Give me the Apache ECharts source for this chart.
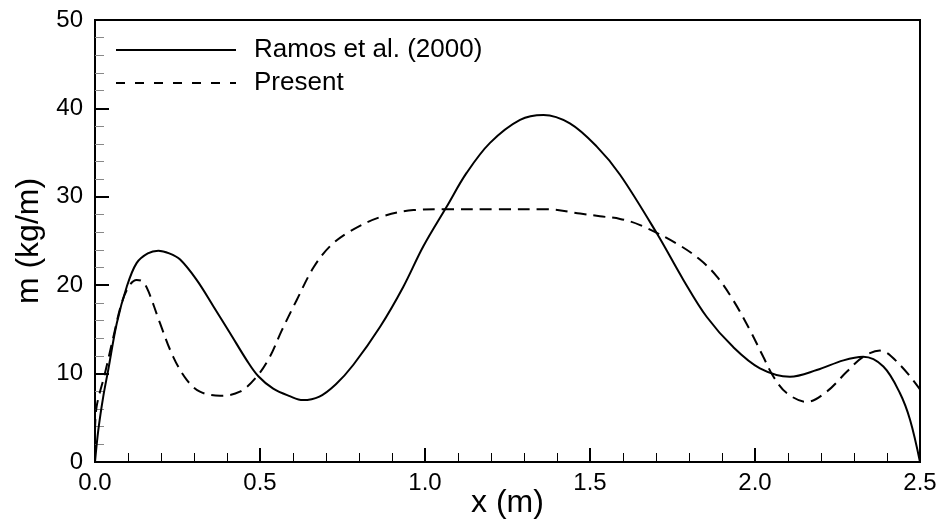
<!DOCTYPE html>
<html>
<head>
<meta charset="utf-8">
<script src="https://cdn.jsdelivr.net/npm/echarts@6/dist/echarts.min.js"></script>
<style>
html,body{margin:0;padding:0;background:#fff;}
#chart{width:942px;height:521px;}
</style>
</head>
<body>
<div id="chart"></div>
<script>
var seriesNames = ['Ramos et al. (2000)', 'Present'];
var ramosX = [0, 0.01, 0.025, 0.04, 0.066, 0.096, 0.126, 0.16, 0.192, 0.225, 0.258, 0.308, 0.359, 0.409, 0.46, 0.495, 0.54, 0.59, 0.63, 0.68, 0.73, 0.783, 0.864, 0.934, 0.995, 1.066, 1.126, 1.197, 1.288, 1.359, 1.439, 1.52, 1.591, 1.702, 1.783, 1.854, 1.934, 2.015, 2.106, 2.187, 2.268, 2.328, 2.389, 2.439, 2.47, 2.5];
var ramosY = [0, 3.6, 7.4, 10.4, 15.7, 19.8, 22.5, 23.6, 23.9, 23.6, 22.9, 20.6, 17.6, 14.6, 11.5, 9.7, 8.3, 7.45, 7.0, 7.4, 8.8, 11.0, 15.3, 19.8, 24.4, 28.9, 32.7, 36.1, 38.7, 39.25, 38.3, 35.7, 32.5, 25.9, 20.6, 16.4, 13.0, 10.6, 9.65, 10.4, 11.5, 11.9, 10.8, 7.8, 4.75, 0];
var presentX = [0, 0.005, 0.03, 0.056, 0.081, 0.105, 0.126, 0.145, 0.162, 0.197, 0.237, 0.278, 0.318, 0.379, 0.439, 0.49, 0.53, 0.565, 0.611, 0.662, 0.712, 0.773, 0.864, 0.965, 1.066, 1.217, 1.369, 1.47, 1.53, 1.591, 1.652, 1.763, 1.833, 1.884, 1.934, 1.985, 2.025, 2.056, 2.096, 2.157, 2.217, 2.278, 2.328, 2.379, 2.439, 2.5];
var presentY = [3.5, 6.3, 10, 14.2, 18, 20.0, 20.6, 20.4, 19.3, 15.7, 11.9, 9.3, 7.95, 7.5, 7.95, 9.65, 11.9, 14.8, 18.3, 22.0, 24.4, 26.1, 27.7, 28.5, 28.6, 28.6, 28.6, 28.1, 27.8, 27.5, 26.8, 24.7, 22.9, 21, 18.3, 14.9, 11.9, 9.65, 7.8, 6.8, 7.95, 10.2, 11.9, 12.6, 11.0, 8.2];
var xTickLabels = ['0.0', '0.5', '1.0', '1.5', '2.0', '2.5'];
var yTickLabels = ['0', '10', '20', '30', '40', '50'];

function pairs(xs, ys) { return xs.map(function (x, i) { return [x, ys[i]]; }); }

var FONT = '"Liberation Sans", Arial, Helvetica, sans-serif';
var chart = echarts.init(document.getElementById('chart'), null, {renderer: 'canvas'});
chart.setOption({
  animation: false,
  backgroundColor: '#fff',
  grid: {left: 95, right: 22, top: 20, bottom: 59, show: true, borderColor: '#000', borderWidth: 2, backgroundColor: 'transparent',
         containLabel: false, outerBoundsMode: 'none'},
  legend: {
    orient: 'vertical', left: 110, top: 32, itemWidth: 120, itemHeight: 14, itemGap: 7,
    itemStyle: {opacity: 0},
    textStyle: {fontFamily: FONT, fontSize: 26, color: '#000', padding: [0, 0, 0, 13]},
    data: [
      {name: seriesNames[0], itemStyle: {opacity: 0}},
      {name: seriesNames[1], itemStyle: {opacity: 0}, lineStyle: {type: [9, 10], width: 2, color: '#000'}}
    ]
  },
  xAxis: {
    type: 'value', min: 0, max: 2.5, interval: 0.5,
    name: 'x (m)', nameLocation: 'middle', nameGap: 25, nameMoveOverlap: false,
    nameTextStyle: {fontFamily: FONT, fontSize: 32, color: '#000'},
    axisLine: {show: true, onZero: false, lineStyle: {color: '#000', width: 2}},
    axisTick: {show: true, inside: true, length: 14, lineStyle: {color: '#000', width: 2}},
    minorTick: {show: true, splitNumber: 5, length: 9, lineStyle: {color: '#000', width: 1}},
    splitLine: {show: false},
    axisLabel: {fontFamily: FONT, fontSize: 24, color: '#000', margin: 9,
      formatter: function (v) { return xTickLabels[Math.round(v / 0.5)]; }}
  },
  yAxis: {
    type: 'value', min: 0, max: 50, interval: 10,
    name: 'm (kg/m)', nameLocation: 'middle', nameGap: 50, nameRotate: 90, nameMoveOverlap: false,
    nameTextStyle: {fontFamily: FONT, fontSize: 32, color: '#000'},
    axisLine: {show: true, onZero: false, lineStyle: {color: '#000', width: 2}},
    axisTick: {show: true, inside: true, length: 14, lineStyle: {color: '#000', width: 2}},
    minorTick: {show: true, splitNumber: 5, length: 9, lineStyle: {color: '#888', width: 1}},
    splitLine: {show: false},
    axisLabel: {fontFamily: FONT, fontSize: 24, color: '#000', margin: 12,
      formatter: function (v) { return yTickLabels[Math.round(v / 10)]; }}
  },
  series: [
    {name: seriesNames[0], type: 'line', data: pairs(ramosX, ramosY), smooth: 0.35, showSymbol: false, symbol: 'none',
     lineStyle: {color: '#000', width: 2, type: 'solid'}, itemStyle: {color: '#000'}},
    {name: seriesNames[1], type: 'line', data: pairs(presentX, presentY), smooth: 0.35, showSymbol: false, symbol: 'none',
     lineStyle: {color: '#000', width: 2, type: [12, 7]}, itemStyle: {color: '#000'}}
  ]
});
</script>
</body>
</html>
